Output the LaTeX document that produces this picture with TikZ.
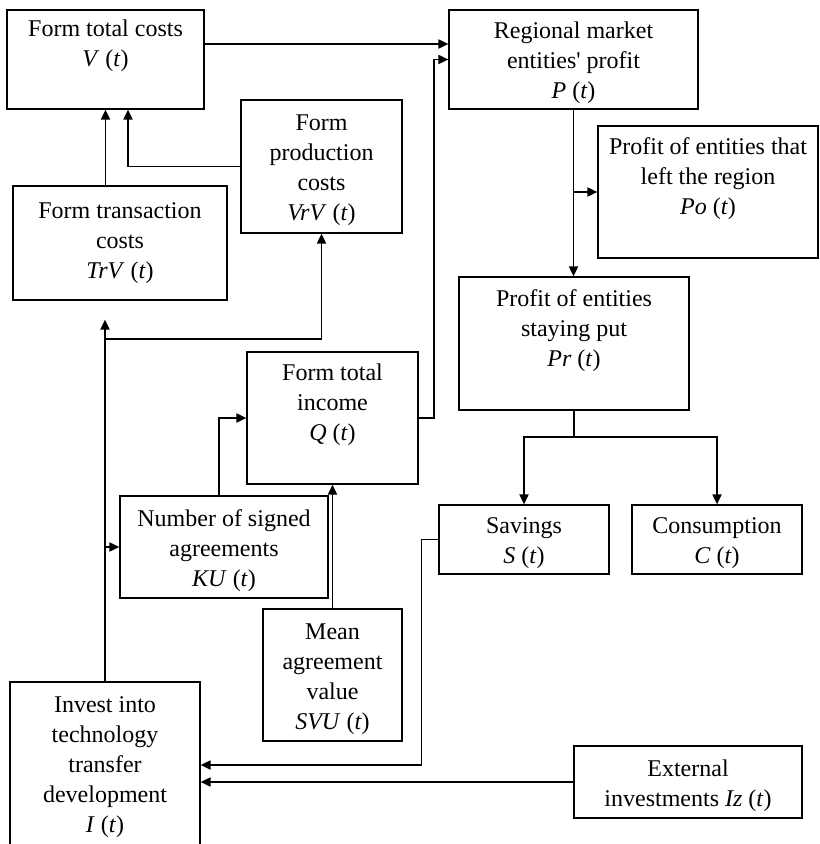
\documentclass[tikz,border=0pt]{standalone}
\usepackage{fontspec}
\setmainfont{Liberation Serif}[Ligatures=TeXOff]
\usetikzlibrary{positioning,arrows.meta}
\newcommand{\fnt}[1]{\textit{#1}~(\textit{t})}
\newcommand{\tl}{\rule{0pt}{12pt}}
\tikzset{
  blk/.style={draw, line width=0.6pt, inner sep=1pt, align=center, font=\fontsize{12}{15}\selectfont},
  flow/.style={-{Triangle[length=5pt,width=4.5pt]}, line width=0.9pt}
}

\begin{document}
\begin{tikzpicture}[x=0.5pt, y=-0.5pt]
  \clip (0,0) rectangle (819,844);
  % blocks
  \node[blk, minimum width=98.5pt, minimum height=49.5pt] (V) at (105.5,59.5) {\tl Form total costs\\ \fnt{V}\\ \strut};
  \node[blk, minimum width=124.5pt, minimum height=49.5pt] (P) at (573.5,59.5) {\tl Regional market\\ entities' profit\\ \fnt{P}};
  \node[blk, minimum width=80.5pt, minimum height=66.5pt] (VrV) at (321.5,166.5) {\tl Form\\ production\\ costs\\ \fnt{VrV}};
  \node[blk, minimum width=107pt, minimum height=57pt] (TrV) at (120,243) {Form transaction\\ costs\\ \fnt{TrV}};
  \node[blk, minimum width=110pt, minimum height=66pt] (Po) at (708,192) {\tl Profit of entities that\\ left the region\\ \fnt{Po}\\ \strut};
  \node[blk, minimum width=115pt, minimum height=66.5pt] (Pr) at (574,343.5) {\tl Profit of entities\\ staying put\\ \fnt{Pr}\\ \strut};
  \node[blk, minimum width=85.5pt, minimum height=66pt] (Q) at (332.5,418) {\tl Form total\\ income\\ \fnt{Q}\\ \strut};
  \node[blk, minimum width=104pt, minimum height=51pt] (KU) at (224,547) {\tl Number of signed\\ agreements\\ \fnt{KU}};
  \node[blk, minimum width=69.5pt, minimum height=66pt] (SVU) at (332.5,675) {\tl Mean\\ agreement\\ value\\ \fnt{SVU}};
  \node[blk, minimum width=95pt, minimum height=85pt] (I) at (105,767) {Invest into\\ technology\\ transfer\\ development\\ \fnt{I}};
  \node[blk, minimum width=85pt, minimum height=34.5pt] (S) at (524,539.5) {\tl Savings\\ \fnt{S}};
  \node[blk, minimum width=85pt, minimum height=34.5pt] (C) at (717,539.5) {\tl Consumption\\ \fnt{C}};
  \node[blk, minimum width=114pt, minimum height=36pt] (Iz) at (688,782) {\tl External\\ investments \fnt{Iz}};
  % costs
  \draw[flow] (V.south |- TrV.north) -- (V.south);
  \draw[flow] (VrV.west) -| ([xshift=11.25pt]V.south);
  \draw[flow] ([yshift=7.75pt]V.east) -- ([yshift=7.75pt]P.west);
  % income
  \draw[flow] (Q.east) -- ++(7.5pt,0) |- (P.west);
  \draw[flow] ([xshift=-2.5pt]KU.north) |- (Q.west);
  \draw[flow] (SVU.north) -- (Q.south);
  % profit split
  \draw[flow] (P.south) -- (P.south |- Pr.north);
  \draw[flow] (P.south |- Po.west) -- (Po.west);
  \draw[flow] (Pr.south) -- ++(0,-13pt) -| (S.north);
  \draw[flow] (Pr.south) -- ++(0,-13pt) -| (C.north);
  % investment
  \draw[flow] (Iz.west) -- (Iz.west -| I.east);
  \draw[flow] (S.west) -- ++(-8.5pt,0) |- ([yshift=8.5pt]Iz.west -| I.east);
  \draw[flow] (I.north) -- ([yshift=-9.5pt]I.north |- TrV.south);
  \draw[flow] ([yshift=-19pt]I.north |- TrV.south) -| (VrV.south);
  \draw[flow] (I.north |- KU.west) -- (KU.west);
\end{tikzpicture}
\end{document}
